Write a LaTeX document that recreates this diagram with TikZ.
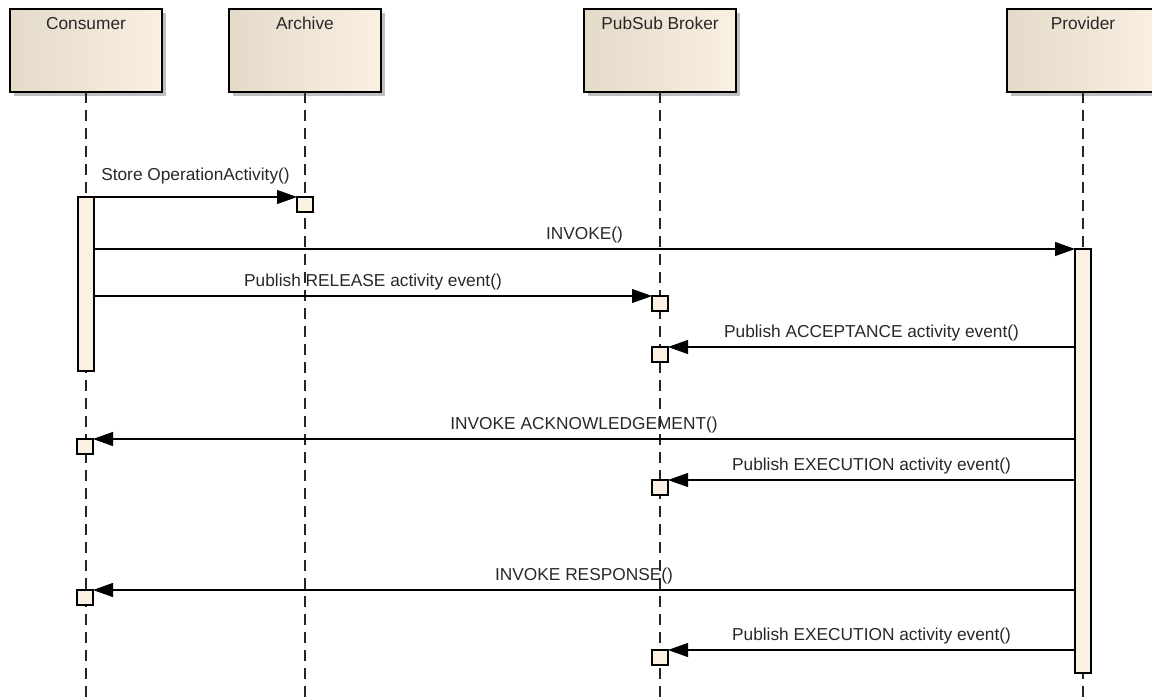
\documentclass[tikz,border=0pt]{standalone}
\usepackage{fontspec}
\setmainfont{Liberation Sans}
\usetikzlibrary{arrows.meta}
\definecolor{boxL}{RGB}{228,218,200}
\definecolor{boxR}{RGB}{250,240,226}
\definecolor{actfill}{RGB}{251,240,225}
\definecolor{txt}{RGB}{40,40,40}
\tikzset{
  head/.style={draw=black, line width=1.2pt, left color=boxL, right color=boxR, shading angle=90,
    minimum width=152pt, minimum height=83pt, inner sep=0pt, outer sep=0pt},
  shadowbox/.style={fill=black!25, draw=none, minimum width=152pt, minimum height=83pt, inner sep=0pt},
  headtext/.style={font=\fontsize{17.3}{20}\selectfont, text=txt, anchor=base},
  life/.style={line width=1.2pt, dash pattern=on 11pt off 7pt, black!85},
  actbox/.style={draw=black, line width=1.2pt, fill=actfill, minimum width=16pt, inner sep=0pt, outer sep=0pt},
  smallbox/.style={draw=black, line width=1.2pt, fill=actfill, minimum width=16pt, minimum height=15pt, inner sep=0pt, outer sep=0pt, anchor=north},
  msg/.style={line width=1.1pt, -{Triangle[length=20pt,width=14pt]}},
  msglabel/.style={font=\fontsize{17.3}{20}\selectfont, text=txt, anchor=base, inner sep=0pt, midway, yshift=10pt}
}
\begin{document}
\begin{tikzpicture}[x=1pt,y=-1pt]
\useasboundingbox (0,0) rectangle (1152,697);
% header shadows
\foreach \cx in {86,305,660,1083} {
  \node[shadowbox, anchor=north] at (\cx+4,13) {};
}
% headers
\node[head, anchor=north] (c) at (86,9) {};
\node[head, anchor=north] (a) at (305,9) {};
\node[head, anchor=north] (b) at (660,9) {};
\node[head, anchor=north] (p) at (1083,9) {};
\node[headtext] (ct) at (86,29) {Consumer};
\node[headtext] (at) at (305,29) {Archive};
\node[headtext] (bt) at (660,29) {PubSub Broker};
\node[headtext] (pt) at (1083,29) {Provider};
% lifeline ends
\coordinate (ce) at (86,697);
\coordinate (ae) at (305,697);
\coordinate (be) at (660,697);
\coordinate (pe) at (1083,697);
\draw[life] (c.south) -- (ce);
\draw[life] (a.south) -- (ae);
\draw[life] (b.south) -- (be);
\draw[life] (p.south) -- (pe);
% activations
\node[actbox, anchor=north, minimum height=174pt] (cact) at (86,197) {};
\node[actbox, anchor=north, minimum height=424pt] (pact) at (1083,249) {};
% small execution boxes
\node[smallbox] (a1) at (305,197) {};
\node[smallbox] (b1) at (660,296) {};
\node[smallbox] (b2) at (660,347) {};
\node[smallbox] (c1) at (85,439) {};
\node[smallbox] (b3) at (660,480) {};
\node[smallbox] (c2) at (85,590) {};
\node[smallbox] (b4) at (660,650) {};
% messages
\coordinate (s1) at (cact.east |- a1.north);
\draw[msg] (s1) -- (a1.north west) node[msglabel, yshift=7pt] {Store OperationActivity()};
\coordinate (s2) at (cact.east |- pact.north);
\draw[msg] (s2) -- (pact.north west) node[msglabel] {INVOKE()};
\coordinate (s3) at (cact.east |- b1.north);
\draw[msg] (s3) -- (b1.north west) node[msglabel] {Publish RELEASE activity event()};
\coordinate (s4) at (pact.west |- b2.north);
\draw[msg] (s4) -- (b2.north east) node[msglabel] {Publish ACCEPTANCE activity event()};
\coordinate (s5) at (pact.west |- c1.north);
\draw[msg] (s5) -- (c1.north east) node[msglabel] {INVOKE ACKNOWLEDGEMENT()};
\coordinate (s6) at (pact.west |- b3.north);
\draw[msg] (s6) -- (b3.north east) node[msglabel] {Publish EXECUTION activity event()};
\coordinate (s7) at (pact.west |- c2.north);
\draw[msg] (s7) -- (c2.north east) node[msglabel] {INVOKE RESPONSE()};
\coordinate (s8) at (pact.west |- b4.north);
\draw[msg] (s8) -- (b4.north east) node[msglabel] {Publish EXECUTION activity event()};
\end{tikzpicture}
\end{document}
